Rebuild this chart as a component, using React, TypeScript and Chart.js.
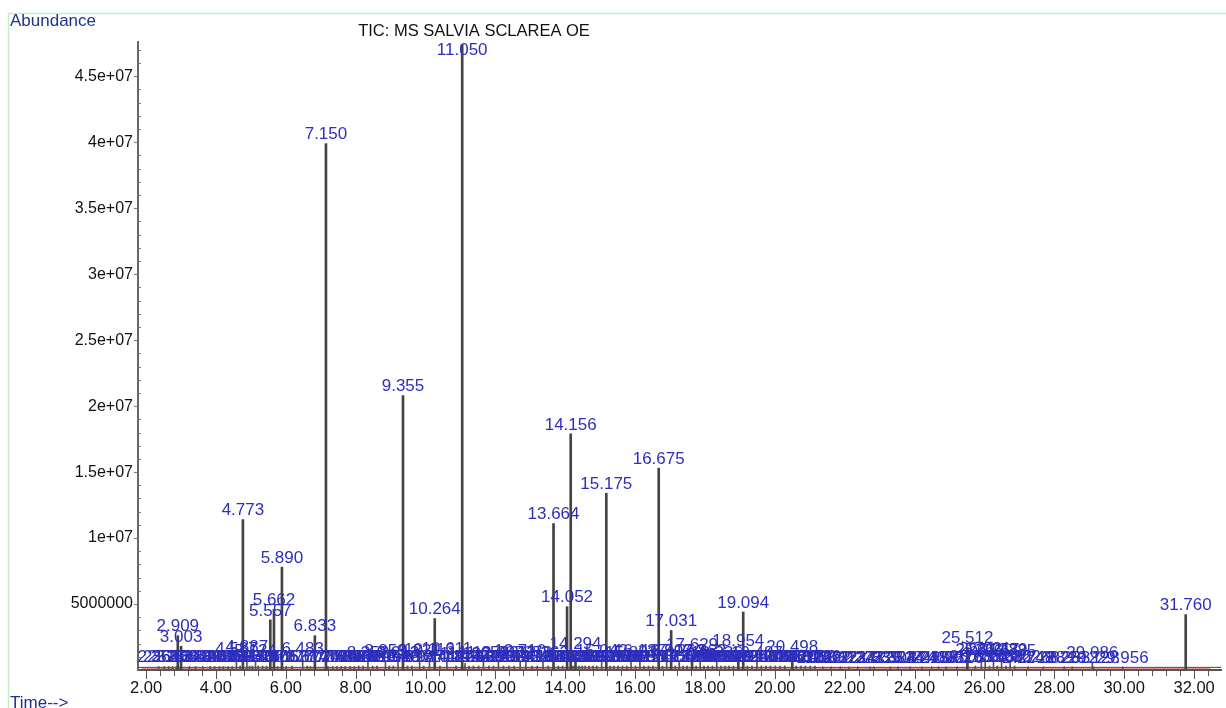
import React, { useEffect, useRef } from 'react';
import { Chart, registerables } from 'chart.js';

Chart.register(...registerables);

// Retention times (min) and abundances of the labelled main peaks
const majorTimes = [2.909, 3.003, 4.773, 5.557, 5.662, 5.890, 6.833, 7.150, 9.355, 10.264, 11.050, 13.664, 14.052, 14.156, 14.294, 15.175, 16.675, 17.031, 17.629, 18.954, 19.094, 20.498, 25.512, 31.760];
const majorHeights = [2.6e6, 1.8e6, 11.4e6, 3.8e6, 4.6e6, 7.8e6, 2.6e6, 39.9e6, 20.8e6, 3.9e6, 47.4e6, 11.1e6, 4.8e6, 17.9e6, 1.3e6, 13.4e6, 15.3e6, 3.0e6, 1.2e6, 1.5e6, 4.4e6, 1.0e6, 1.7e6, 4.2e6];

// Small labelled peaks crowding the baseline
const minorTimes = [
  2.362, 2.521, 2.648, 2.758, 2.868, 3.242, 3.418, 3.624, 3.835, 3.962, 4.106, 4.215, 4.352, 4.468,
  4.587, 4.695, 4.887, 4.962, 5.043, 5.134, 5.213, 5.336, 5.447,
  5.765, 6.012, 6.176, 6.483, 6.614, 6.707,
  7.207, 7.342, 7.466, 7.588, 7.702, 7.845, 7.963, 8.087, 8.213, 8.352, 8.487, 8.613, 8.853, 8.962, 9.078, 9.213, 9.486, 9.612, 9.831, 9.947, 10.113, 10.412, 10.611,
  10.874, 11.132, 11.245, 11.372, 11.520, 11.658, 11.812, 11.947, 12.087, 12.231, 12.384, 12.532, 12.710, 12.873, 13.046, 13.198, 13.362, 13.512,
  13.802, 13.923, 14.218, 14.387, 14.482, 14.571, 14.680, 14.793, 14.901,
  15.042, 15.288, 15.392, 15.514, 15.638, 15.761, 15.883, 16.012, 16.137, 16.254, 16.383, 16.512, 16.783, 16.902,
  17.148, 17.262, 17.374, 17.489, 17.748, 17.862, 17.973, 18.087, 18.214, 18.336, 18.452, 18.573, 18.687, 18.812,
  19.213, 19.345, 19.487, 19.612, 19.748, 19.873, 20.012, 20.146, 20.283, 20.612, 20.748, 20.873, 21.012, 21.146,
  21.372, 21.612, 21.873, 22.124, 22.372, 22.723, 22.835, 23.304, 23.524, 23.874,
  24.211, 24.488, 24.685, 24.902, 25.216,
  25.738, 25.912, 26.021, 26.143, 26.257, 26.368, 26.489, 26.612, 26.735, 26.862,
  27.248, 27.682, 28.283, 28.512, 29.086, 29.128, 29.956,
];
const minorHeights = [
  0.25e6, 0.25e6, 0.25e6, 0.25e6, 0.25e6, 0.25e6, 0.25e6, 0.25e6, 0.25e6, 0.25e6, 0.25e6, 0.25e6, 0.25e6, 0.25e6,
  0.9e6, 0.3e6, 1.0e6, 0.3e6, 0.3e6, 0.7e6, 0.3e6, 0.3e6, 0.3e6,
  0.25e6, 0.25e6, 0.3e6, 0.85e6, 0.3e6, 0.25e6,
  0.25e6, 0.25e6, 0.25e6, 0.25e6, 0.25e6, 0.25e6, 0.25e6, 0.3e6, 0.3e6, 0.6e6, 0.3e6, 0.3e6, 0.7e6, 0.3e6, 0.3e6, 0.6e6, 0.3e6, 0.3e6, 0.7e6, 0.3e6, 0.8e6, 0.3e6, 0.9e6,
  0.3e6, 0.5e6, 0.3e6, 0.3e6, 0.3e6, 0.6e6, 0.3e6, 0.3e6, 0.6e6, 0.3e6, 0.3e6, 0.3e6, 0.7e6, 0.6e6, 0.3e6, 0.3e6, 0.6e6, 0.3e6,
  0.3e6, 0.3e6, 0.3e6, 0.3e6, 0.3e6, 0.3e6, 0.3e6, 0.3e6, 0.3e6,
  0.7e6, 0.3e6, 0.3e6, 0.3e6, 0.3e6, 0.3e6, 0.6e6, 0.3e6, 0.7e6, 0.3e6, 0.3e6, 0.3e6, 0.3e6, 0.7e6,
  0.3e6, 0.7e6, 0.3e6, 0.3e6, 0.3e6, 0.7e6, 0.3e6, 0.3e6, 0.3e6, 0.6e6, 0.3e6, 0.3e6, 0.3e6, 0.3e6,
  0.3e6, 0.3e6, 0.6e6, 0.3e6, 0.3e6, 0.3e6, 0.3e6, 0.3e6, 0.3e6, 0.3e6, 0.3e6, 0.3e6, 0.3e6, 0.3e6,
  0.2e6, 0.2e6, 0.2e6, 0.2e6, 0.2e6, 0.2e6, 0.2e6, 0.2e6, 0.2e6, 0.2e6,
  0.2e6, 0.2e6, 0.2e6, 0.2e6, 0.2e6,
  0.3e6, 0.8e6, 0.9e6, 0.3e6, 0.8e6, 0.3e6, 0.8e6, 0.3e6, 0.7e6, 0.3e6,
  0.2e6, 0.2e6, 0.2e6, 0.2e6, 0.6e6, 0.2e6, 0.2e6,
];

const baselineLevel = 0.2e6;
const integrationLevel = 0.1e6;
const timeRange = [1.77, 32.77];
const abundanceRange = [0, 4.76e7];
const xTickStep = 2;
const xMinorStep = 0.4;
const yTickStep = 5e6;
const yMinorStep = 1e6;

const FONT = "'Liberation Sans', Arial, Helvetica, sans-serif";
const LABEL_BLUE = 'rgb(46,46,190)';

function fmtAbundance(v: number): string {
  if (v < 1e7) return String(Math.round(v));
  const e = Math.floor(Math.log10(v));
  const m = Math.round((v / Math.pow(10, e)) * 100) / 100;
  return `${m}e+${String(e).padStart(2, '0')}`;
}

function multiples(step: number, lo: number, hi: number): number[] {
  const out: number[] = [];
  for (let k = Math.ceil(lo / step - 1e-9); k * step <= hi + 1e-9; k++) out.push(Math.round(k * step * 1000) / 1000);
  return out;
}

const framePlugin = {
  id: 'frame',
  beforeDraw(chart: any) {
    const { ctx, width, height } = chart;
    ctx.save();
    ctx.fillStyle = '#ffffff';
    ctx.fillRect(0, 0, width, height);
    ctx.strokeStyle = '#c6ecc6';
    ctx.lineWidth = 1.5;
    ctx.beginPath();
    ctx.moveTo(8.5, height);
    ctx.lineTo(8.5, 13.5);
    ctx.lineTo(width, 13.5);
    ctx.stroke();
    ctx.restore();
  },
  afterDraw(chart: any) {
    const { ctx, chartArea } = chart;
    const xs = chart.scales.x;
    const ys = chart.scales.y;
    ctx.save();
    // x ticks (major + minor)
    ctx.strokeStyle = '#555';
    ctx.lineWidth = 1;
    ctx.beginPath();
    multiples(xMinorStep, timeRange[0], timeRange[1]).forEach((v) => {
      const px = Math.round(xs.getPixelForValue(v)) + 0.5;
      const major = Math.abs(v / xTickStep - Math.round(v / xTickStep)) < 1e-6;
      ctx.moveTo(px, chartArea.bottom);
      ctx.lineTo(px, chartArea.bottom + (major ? 9 : 6));
    });
    ctx.stroke();
    // y ticks (major + minor)
    ctx.strokeStyle = '#777';
    ctx.beginPath();
    multiples(yMinorStep, yMinorStep, abundanceRange[1]).forEach((v) => {
      const py = Math.round(ys.getPixelForValue(v)) + 0.5;
      const major = Math.abs(v / yTickStep - Math.round(v / yTickStep)) < 1e-6;
      if (major) {
        ctx.moveTo(chartArea.left - 4, py);
        ctx.lineTo(chartArea.left, py);
      } else {
        ctx.moveTo(chartArea.left, py);
        ctx.lineTo(chartArea.left + 3, py);
      }
    });
    ctx.stroke();

    // texts
    ctx.fillStyle = '#22308f';
    ctx.font = `17px ${FONT}`;
    ctx.textAlign = 'left';
    ctx.textBaseline = 'middle';
    ctx.fillText('Abundance', 10, 21);
    ctx.fillText('Time-->', 10, 703);
    ctx.fillStyle = '#111';
    ctx.font = `16.5px ${FONT}`;
    ctx.textAlign = 'center';
    ctx.fillText('TIC: MS SALVIA SCLAREA OE', 474, 31);
    ctx.restore();
  },
};

const peakLabelPlugin = {
  id: 'peakLabels',
  afterDatasetsDraw(chart: any) {
    const { ctx, chartArea } = chart;
    const xs = chart.scales.x;
    const ys = chart.scales.y;
    ctx.save();
    ctx.fillStyle = LABEL_BLUE;
    ctx.font = `17px ${FONT}`;
    ctx.textAlign = 'center';
    ctx.textBaseline = 'middle';
    const draw = (times: number[], heights: number[]) => {
      times.forEach((t, i) => {
        const px = xs.getPixelForValue(t);
        const py = ys.getPixelForValue(heights[i]);
        const ly = Math.max(py - 9, chartArea.top + 8);
        ctx.fillText(t.toFixed(3), px, ly);
      });
    };
    draw(minorTimes, minorHeights);
    draw(majorTimes, majorHeights);
    ctx.restore();
  },
};

export default function App() {
  const ref = useRef<HTMLCanvasElement | null>(null);

  useEffect(() => {
    if (!ref.current) return;
    const majorData = majorTimes.map((t, i) => ({ x: t, y: majorHeights[i] }));
    const minorData = minorTimes.map((t, i) => ({ x: t, y: minorHeights[i] }));
    const allTimes = [...majorTimes, ...minorTimes];
    const chart = new Chart(ref.current, {
      type: 'bar',
      data: {
        datasets: [
          {
            type: 'bar',
            data: majorData as any,
            backgroundColor: '#444',
            borderWidth: 0,
            barThickness: 2,
            grouped: false,
          } as any,
          {
            type: 'bar',
            data: minorData as any,
            backgroundColor: '#555',
            borderWidth: 0,
            barThickness: 1,
            grouped: false,
          } as any,
          {
            type: 'line',
            data: [
              { x: timeRange[0], y: baselineLevel },
              { x: timeRange[1], y: baselineLevel },
            ],
            borderColor: '#444',
            borderWidth: 1,
            pointRadius: 0,
          } as any,
          {
            type: 'line',
            data: allTimes.map((t) => ({ x: t, y: integrationLevel })),
            showLine: false,
            pointStyle: 'line',
            rotation: 90,
            pointRadius: 2.5,
            pointBorderColor: 'rgba(200,40,40,0.85)',
            pointBorderWidth: 1,
          } as any,
          {
            type: 'line',
            data: [
              { x: timeRange[0] + 0.1, y: integrationLevel },
              { x: timeRange[1] - 0.3, y: integrationLevel },
            ],
            borderColor: 'rgba(200,60,60,0.7)',
            borderWidth: 1,
            pointRadius: 0,
          } as any,
        ],
      },
      options: {
        animation: false,
        responsive: false,
        devicePixelRatio: 1,
        layout: { padding: { left: 0, right: 4, top: 42, bottom: 0 } },
        plugins: { legend: { display: false }, tooltip: { enabled: false } },
        scales: {
          x: {
            type: 'linear',
            min: timeRange[0],
            max: timeRange[1],
            offset: false,
            grid: { display: false, drawTicks: false, offset: false },
            border: { display: true, color: '#555', width: 2 },
            ticks: {
              padding: 9,
              color: '#111',
              font: { family: FONT, size: 16.5 },
              maxRotation: 0,
              autoSkip: false,
              callback: (v: any) => Number(v).toFixed(2),
            },
            afterBuildTicks: (axis: any) => {
              axis.ticks = multiples(xTickStep, timeRange[0], timeRange[1]).map((v) => ({ value: v }));
            },
            afterFit: (axis: any) => {
              axis.height = 38;
            },
          },
          y: {
            type: 'linear',
            min: abundanceRange[0],
            max: abundanceRange[1],
            grid: { display: false, drawTicks: false },
            border: { display: true, color: '#666', width: 2 },
            ticks: {
              padding: 5,
              color: '#111',
              font: { family: FONT, size: 16 },
              autoSkip: false,
              callback: (v: any) => fmtAbundance(Number(v)),
            },
            afterBuildTicks: (axis: any) => {
              axis.ticks = multiples(yTickStep, yTickStep, abundanceRange[1]).map((v) => ({ value: v }));
            },
            afterFit: (axis: any) => {
              axis.width = 138;
            },
          },
        },
      } as any,
      plugins: [framePlugin, peakLabelPlugin],
    });
    return () => chart.destroy();
  }, []);

  return (
    <canvas
      ref={ref}
      width={1226}
      height={708}
      style={{ position: 'absolute', left: 0, top: 0, display: 'block' }}
    />
  );
}
